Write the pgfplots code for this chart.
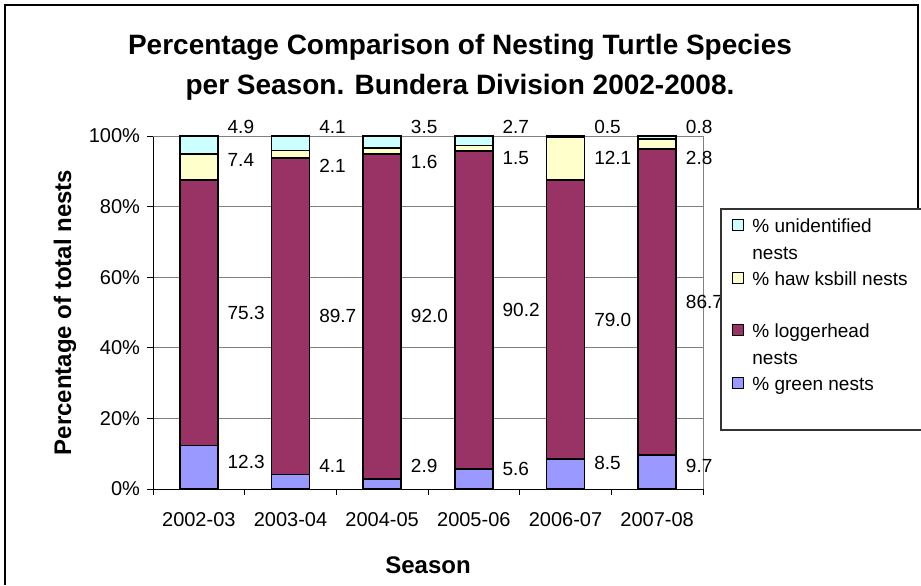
\documentclass[border=0pt]{standalone}
\usepackage{pgfplots}
\pgfplotsset{compat=1.18}
\usepackage{pgfplotstable}
\usepackage{fontspec}
\setmainfont{Liberation Sans}

\definecolor{greenN}{HTML}{9999FF}
\definecolor{loggerN}{HTML}{993366}
\definecolor{hawkN}{HTML}{FFFFCC}
\definecolor{unidN}{HTML}{CCFFFF}
\definecolor{gridgray}{HTML}{808080}

% percentages per season
\pgfplotstableread{
x green logger hawk unid
0 12.3 75.3 7.4 4.9
1 4.1 89.7 2.1 4.1
2 2.9 92.0 1.6 3.5
3 5.6 90.2 1.5 2.7
4 8.5 79.0 12.1 0.5
5 9.7 86.7 2.8 0.8
}\nestdata

% where Excel put the data labels (x offset right of the bar)
\pgfplotstableread{
x y lab
0.31 102.5 4.9
1.31 102.5 4.1
2.31 102.5 3.5
3.31 102.5 2.7
4.31 102.5 0.5
5.31 102.5 0.8
0.31 93.2 7.4
1.31 91.5 2.1
2.31 92.6 1.6
3.31 93.8 1.5
4.31 93.8 12.1
5.31 93.8 2.8
0.31 49.95 75.3
1.31 48.95 89.7
2.31 48.9 92.0
3.31 50.7 90.2
4.31 48.0 79.0
5.31 53.0 86.7
0.31 7.6 12.3
1.31 6.5 4.1
2.31 6.5 2.9
3.31 5.7 5.6
4.31 7.4 8.5
5.31 6.5 9.7
}\labeldata

\begin{document}
\begin{tikzpicture}
\useasboundingbox (0,0) rectangle (460.5pt,-292.5pt);
% chart frame
\draw[black, line width=1.2pt] (2.5pt,-292.5pt) -- (2.5pt,-2.5pt) -- (459pt,-2.5pt) -- (459pt,-104.5pt);

\node[font=\fontsize{14}{16}\selectfont\bfseries] at (230pt,-23.5pt) {Percentage Comparison of Nesting Turtle Species};
\node[font=\fontsize{14}{16}\selectfont\bfseries] at (230pt,-43.5pt) {per Season. Bundera Division 2002-2008.};

\pgfplotsset{
  chartbase/.style={
    at={(76.5pt,-244.5pt)}, anchor=south west,
    scale only axis, width=275pt, height=176.5pt,
    xmin=-0.5, xmax=5.5, ymin=0, ymax=100,
    clip=false,
  }
}

\begin{axis}[
  chartbase,
  ybar stacked, bar width=19pt,
  axis lines*=left,
  axis line style={black, line width=0.5pt},
  tick align=outside, major tick length=3pt,
  tick style={black, line width=0.5pt},
  xtick={-0.5,0.5,...,5.5}, xticklabels={},
  extra x ticks={0,1,2,3,4,5},
  extra x tick labels={2002-03,2003-04,2004-05,2005-06,2006-07,2007-08},
  extra x tick style={tick style={draw=none}},
  xticklabel style={yshift=-5pt},
  ytick={0,20,...,100},
  yticklabel={\pgfmathprintnumber{\tick}\%},
  ymajorgrids, grid style={gridgray, line width=0.5pt},
  tick label style={font=\fontsize{10}{12}\selectfont},
  /pgf/number format/assume math mode=true,
  xlabel={Season}, ylabel={Percentage of total nests},
  label style={font=\fontsize{12}{14}\selectfont\bfseries},
  xlabel style={at={(axis description cs:0.5,-0.215)}, anchor=center},
  ylabel style={at={(axis description cs:-0.16,0.5)}, anchor=center},
]
\addplot[fill=greenN, draw=black, line width=0.9pt] table[x=x, y=green] {\nestdata};
\addplot[fill=loggerN, draw=black, line width=0.9pt] table[x=x, y=logger] {\nestdata};
\addplot[fill=hawkN, draw=black, line width=0.9pt] table[x=x, y=hawk] {\nestdata};
\addplot[fill=unidN, draw=black, line width=0.9pt] table[x=x, y=unid] {\nestdata};
\draw[gridgray, line width=0.5pt] (rel axis cs:1,0) -- (rel axis cs:1,1) -- (rel axis cs:0,1);
\end{axis}

\begin{axis}[chartbase, hide axis]
\addplot[draw=none, mark=none, nodes near coords, point meta=explicit symbolic,
  nodes near coords style={anchor=west, inner sep=0pt, font=\fontsize{9.5}{11}\selectfont}]
  table[x=x, y=y, meta=lab] {\labeldata};
\end{axis}

% legend
\draw[black!80, line width=0.6pt] (460.5pt,-104.5pt) -- (360.5pt,-104.5pt) -- (360.5pt,-215pt) -- (460.5pt,-215pt);
\begin{scope}[every node/.style={anchor=base west, inner sep=0pt, font=\fontsize{9.5}{11}\selectfont}]
\filldraw[fill=unidN, draw=black, line width=0.6pt] (366.25pt,-109.75pt) rectangle ++(5.5pt,-5.5pt);
\node at (376pt,-116pt) {\% unidentified};
\node at (376pt,-129.5pt) {nests};
\filldraw[fill=hawkN, draw=black, line width=0.6pt] (366.25pt,-136.25pt) rectangle ++(5.5pt,-5.5pt);
\node at (376pt,-142.5pt) {\% haw ksbill nests};
\filldraw[fill=loggerN, draw=black, line width=0.6pt] (366.25pt,-162.25pt) rectangle ++(5.5pt,-5.5pt);
\node at (376pt,-168.5pt) {\% loggerhead};
\node at (376pt,-182pt) {nests};
\filldraw[fill=greenN, draw=black, line width=0.6pt] (366.25pt,-188.75pt) rectangle ++(5.5pt,-5.5pt);
\node at (376pt,-195pt) {\% green nests};
\end{scope}
\end{tikzpicture}
\end{document}
